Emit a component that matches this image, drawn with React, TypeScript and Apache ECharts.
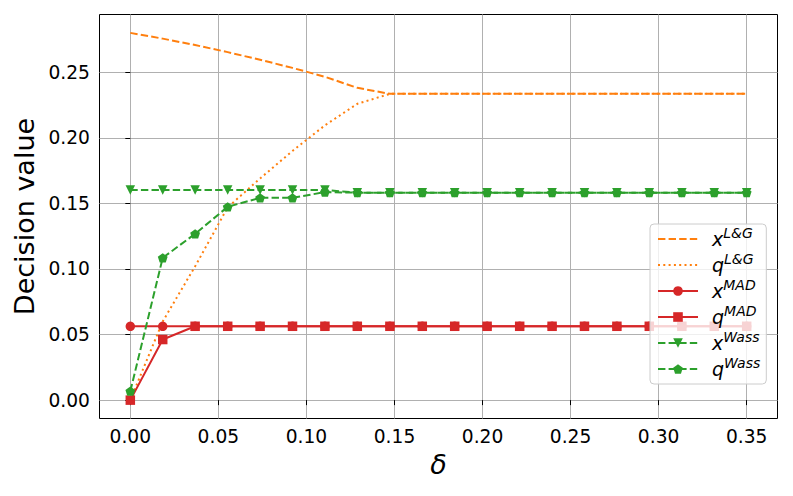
import React, { useEffect, useRef } from "react";
import * as echarts from "echarts";

const deltas = [0, 0.0184, 0.0368, 0.0553, 0.0737, 0.0921, 0.1105, 0.1289, 0.1474, 0.1658, 0.1842, 0.2026, 0.2211, 0.2395, 0.2579, 0.2763, 0.2947, 0.3132, 0.3316, 0.35];
const xLG = [0.28, 0.2756, 0.2707, 0.2653, 0.2595, 0.2533, 0.2465, 0.2381, 0.2335, 0.2335, 0.2335, 0.2335, 0.2335, 0.2335, 0.2335, 0.2335, 0.2335, 0.2335, 0.2335, 0.2335];
const qLG = [0, 0.06, 0.102, 0.147, 0.169, 0.19, 0.2095, 0.2259, 0.2335, 0.2335, 0.2335, 0.2335, 0.2335, 0.2335, 0.2335, 0.2335, 0.2335, 0.2335, 0.2335, 0.2335];
const xMAD = [0.0563, 0.0563, 0.0563, 0.0563, 0.0563, 0.0563, 0.0563, 0.0563, 0.0563, 0.0563, 0.0563, 0.0563, 0.0563, 0.0563, 0.0563, 0.0563, 0.0563, 0.0563, 0.0563, 0.0563];
const qMAD = [0, 0.0462, 0.0563, 0.0563, 0.0563, 0.0563, 0.0563, 0.0563, 0.0563, 0.0563, 0.0563, 0.0563, 0.0563, 0.0563, 0.0563, 0.0563, 0.0563, 0.0563, 0.0563, 0.0563];
const xWass = [0.1602, 0.1602, 0.1602, 0.1602, 0.1602, 0.1602, 0.1602, 0.1582, 0.1582, 0.1582, 0.1582, 0.1582, 0.1582, 0.1582, 0.1582, 0.1582, 0.1582, 0.1582, 0.1582, 0.1582];
const qWass = [0.0068, 0.1085, 0.1268, 0.1474, 0.1542, 0.1542, 0.1586, 0.1582, 0.1582, 0.1582, 0.1582, 0.1582, 0.1582, 0.1582, 0.1582, 0.1582, 0.1582, 0.1582, 0.1582, 0.1582];
const xTicks = [0, 0.05, 0.1, 0.15, 0.2, 0.25, 0.3, 0.35];
const yTicks = [0, 0.05, 0.1, 0.15, 0.2, 0.25];
const seriesNames = ["xL&G", "qL&G", "xMAD", "qMAD", "xWass", "qWass"];

const ORANGE = "#ff7f0e";
const RED = "#d62728";
const GREEN = "#2ca02c";
const DASH = [7.4, 3.2];
const DOT = [2, 3.3];
const PENTAGON = "path://M0,-1L0.951,-0.309L0.588,0.809L-0.588,0.809L-0.951,-0.309Z";
const FONT = "DejaVu Sans";

function pairs(vals: number[]) {
  return deltas.map((d, i) => [d, vals[i]]);
}

export default function App() {
  const ref = useRef<HTMLDivElement>(null);
  useEffect(() => {
    if (!ref.current) return;
    const chart = echarts.init(ref.current, undefined, { renderer: "svg" });
    const mk = (name: string, vals: number[], color: string, type: any, symbol: string, size: any, rotate = 0) => ({
      name,
      type: "line",
      data: pairs(vals),
      symbol,
      symbolSize: size,
      symbolRotate: rotate,
      showSymbol: symbol !== "none",
      color,
      itemStyle: { color },
      lineStyle: { color, width: 2, type, cap: "butt" },
      emphasis: { disabled: true },
    });
    chart.setOption({
      animation: false,
      backgroundColor: "#ffffff",
      grid: {
        left: 99.5,
        top: 14.5,
        width: 678,
        height: 404,
        show: true,
        borderColor: "#000000",
        borderWidth: 1,
        backgroundColor: "transparent",
      },
      legend: {
        orient: "vertical",
        left: 650,
        top: 224,
        itemWidth: 40,
        itemHeight: 12,
        itemGap: 0,
        padding: [2, 6, 2, 7],
        backgroundColor: "rgba(255,255,255,0.8)",
        borderColor: "#cccccc",
        borderWidth: 1,
        borderRadius: 4,
        data: seriesNames.map((n, i) =>
          i < 2 ? { name: n, itemStyle: { opacity: 0, borderWidth: 0 } } : { name: n }
        ),
        formatter: (n: string) => {
          const base = n.charAt(0);
          const sup = n.slice(1);
          return "{m|" + base + "}{s|" + sup + "}";
        },
        textStyle: {
          color: "#000",
          fontFamily: FONT,
          rich: {
            m: { fontSize: 19, fontStyle: "italic", fontFamily: FONT, lineHeight: 30, padding: [0, 0, 0, 9], color: "#000" },
            s: { fontSize: 14, fontStyle: "italic", fontFamily: FONT, lineHeight: 12, padding: [0, 0, 12, 0], color: "#000" },
          },
        },
      },
      xAxis: {
        type: "value",
        min: -0.0175,
        max: 0.3675,
        name: "δ",
        nameLocation: "middle",
        nameGap: 32,
        nameTextStyle: { fontFamily: FONT, fontSize: 27, fontStyle: "italic", color: "#000" },
        axisLine: { show: false },
        axisTick: { show: true, customValues: xTicks, length: 5, lineStyle: { color: "#000", width: 1 } },
        axisLabel: {
          customValues: xTicks,
          formatter: (v: number) => v.toFixed(2),
          fontFamily: FONT,
          fontSize: 18.67,
          color: "#000",
          margin: 8,
        },
        splitLine: { show: true, lineStyle: { color: "#b0b0b0", width: 1 } },
      },
      yAxis: {
        type: "value",
        min: -0.014,
        max: 0.294,
        name: "Decision value",
        nameLocation: "middle",
        nameGap: 60,
        nameRotate: 90,
        nameTextStyle: { fontFamily: FONT, fontSize: 27, color: "#000" },
        axisLine: { show: false },
        axisTick: { show: true, customValues: yTicks, length: 5, lineStyle: { color: "#000", width: 1 } },
        axisLabel: {
          customValues: yTicks,
          formatter: (v: number) => v.toFixed(2),
          fontFamily: FONT,
          fontSize: 18.67,
          color: "#000",
          margin: 9.5,
        },
        splitLine: { show: true, lineStyle: { color: "#b0b0b0", width: 1 } },
      },
      series: [
        mk(seriesNames[0], xLG, ORANGE, DASH, "none", 0),
        mk(seriesNames[1], qLG, ORANGE, DOT, "none", 0),
        mk(seriesNames[2], xMAD, RED, "solid", "circle", 9.5),
        mk(seriesNames[3], qMAD, RED, "solid", "rect", 9.5),
        mk(seriesNames[4], xWass, GREEN, DASH, "triangle", 9.5, 180),
        mk(seriesNames[5], qWass, GREEN, DASH, PENTAGON, [9.8, 9.3]),
      ],
    });
    return () => chart.dispose();
  }, []);
  return (
    <div
      ref={ref}
      style={{ position: "fixed", left: 0, top: 0, width: 793, height: 496, background: "#fff" }}
    />
  );
}
